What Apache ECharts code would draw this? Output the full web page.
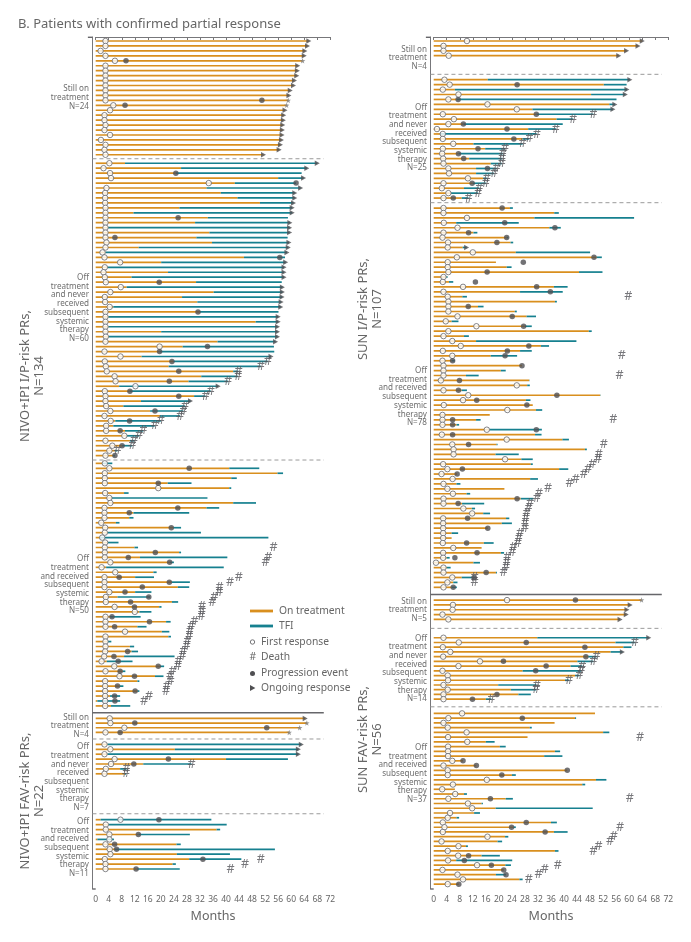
<!DOCTYPE html>
<html>
<head>
<meta charset="utf-8">
<title>Patients with confirmed partial response</title>
<style>
  html, body { margin: 0; padding: 0; background: #fff; }
  #chart { width: 691px; height: 942px; }
</style>
<script src="https://cdn.jsdelivr.net/npm/echarts@6/dist/echarts.min.js"></script>
</head>
<body>
<div id="chart"></div>
<script>
const _ = null
const A = 1 // ongoing response arrow
const S = 2 // star at the end of the row

// each row: first response, end of treatment, end of TFI, progression, death, end marker (months)
const nivoStillIP = [
  [3.0,65.4,65.4,_,_,A],[3.0,65.0,65.0,_,_,A],[1.5,64.2,64.2,_,_,A],[3.0,64.0,64.0,_,_,A],
  [5.9,63.5,63.5,9.3,_,S],[3.0,62.0,62.0,_,_,A],[3.0,61.9,61.9,_,_,A],[3.0,61.7,61.7,_,_,A],
  [3.0,61.0,61.0,_,_,A],[3.0,60.7,60.7,_,_,A],[3.0,59.7,59.7,_,_,A],[3.0,59.3,59.3,_,_,A],
  [3.0,59.1,59.1,51.0,_,S],[5.4,58.6,58.6,9.0,_,S],[4.4,58.1,58.1,_,_,A],[2.7,57.7,57.7,_,_,A],
  [2.7,57.6,57.6,_,_,A],[3.0,57.4,57.4,_,_,A],[2.7,57.3,57.3,_,_,A],[4.4,57.2,57.2,_,_,A],
  [1.6,57.0,57.0,_,_,A],[3.0,56.7,56.7,_,_,A],[2.7,56.3,56.3,_,_,A],[3.0,51.5,51.5,_,_,A]
]
const nivoNeverIP = [
  [4.2,9.0,68.0,_,_,A],[2.4,26.2,64.8,_,_,A],[4.4,24.6,63.2,24.6,_,0],[4.7,56.0,63.8,_,_,A],
  [34.7,42.7,61.5,61.5,_,0],[3.3,34.0,62.9,_,_,A],[2.9,38.4,61.1,_,_,A],[2.9,43.5,61.1,_,_,A],
  [2.9,50.4,60.7,_,_,A],[3.0,25.7,60.3,_,_,A],[3.0,11.6,60.3,_,_,A],[3.0,34.4,59.0,25.3,_,0],
  [3.0,30.5,59.6,_,_,A],[3.0,3.8,59.5,_,_,A],[3.0,34.9,59.5,_,_,A],[3.0,30.9,58.9,5.9,_,0],
  [3.3,35.7,59.3,_,_,A],[3.0,13.2,59.1,_,_,A],[2.1,3.0,58.7,_,_,A],[2.7,45.5,58.1,56.5,_,0],
  [7.5,20.1,58.3,_,_,A],[2.8,3.6,57.8,_,_,A],[2.4,22.2,57.8,_,_,A],[2.8,11.0,57.8,_,_,A],
  [3.1,30.8,57.1,19.5,_,0],[7.7,9.5,57.3,_,_,A],[4.5,36.2,57.3,_,_,A],[2.8,26.5,57.2,_,_,A],
  [2.9,31.2,56.9,_,_,A],[4.3,5.4,56.8,_,_,A],[3.0,32.0,56.1,31.4,_,0],[3.0,3.9,56.0,_,_,A],
  [3.0,49.1,56.0,_,_,A],[3.0,3.9,55.8,_,_,A],[3.0,20.1,55.8,_,_,A],[3.1,4.0,55.8,_,_,A],
  [3.0,37.4,55.2,_,_,A],[19.6,26.7,54.7,34.3,_,0],[2.7,19.6,54.8,19.6,_,0],[7.6,14.1,53.8,_,_,A],
  [2.8,23.8,52.8,23.4,52.8,0],[3.1,22.4,50.7,_,50.7,0],[3.4,42.2,43.8,25.5,43.8,0],[5.8,32.4,43.6,_,43.7,0],
  [6.1,28.5,40.6,22.6,40.6,0],[12.2,7.2,37.6,_,_,A],[2.8,10.5,35.3,10.5,35.3,0],[3.0,30.2,33.7,25.5,33.7,0],
  [3.0,13.9,29.1,_,_,A],[3.2,8.5,27.4,_,27.4,0],[4.5,16.7,26.9,18.2,26.9,0],[2.7,19.7,25.9,_,25.9,0],
  [4.6,6.0,20.0,10.4,20.0,0],[3.2,5.4,18.1,_,18.1,0],[3.2,9.0,14.6,7.5,14.6,0],[8.8,9.5,13.3,_,13.3,0],
  [3.0,10.5,11.8,_,11.8,0],[5.1,8.1,11.2,8.1,11.2,0],[4.2,5.9,6.7,_,6.7,0],[3.0,5.4,5.9,5.9,_,0]
]
const nivoReceivedIP = [
  [2.8,2.0,5.1,_,_,0],[4.2,41.0,50.2,28.7,_,0],[2.8,55.8,57.5,_,_,0],[2.8,41.6,43.3,_,_,0],
  [2.8,22.1,29.4,19.2,_,0],[19.2,41.0,41.6,_,_,0],[2.9,8.7,10.1,_,_,0],[4.2,4.9,34.3,_,_,0],
  [4.5,42.2,49.2,_,_,0],[2.7,34.0,37.9,25.2,_,0],[2.7,11.6,28.7,10.3,_,0],[2.7,10.3,11.6,_,_,0],
  [1.7,6.2,7.3,_,_,0],[2.9,23.8,26.2,23.2,_,0],[2.8,3.6,32.3,_,_,0],[2.0,1.3,53.0,_,_,0],
  [2.9,3.7,7.0,_,_,0],[2.8,11.9,13.0,_,54.6,0],[2.8,25.6,26.2,18.3,_,0],[2.8,13.6,40.4,10.0,53.0,0],
  [4.5,22.8,24.0,22.7,52.1,0],[1.8,3.2,39.3,_,_,0],[6.0,17.7,18.7,_,_,0],[2.7,12.1,17.9,7.2,43.9,0],
  [2.7,23.3,28.9,22.6,41.2,0],[2.7,25.2,28.7,14.3,38.0,0],[4.2,12.1,17.1,9.0,37.9,0],[3.1,6.7,16.7,16.3,36.4,0],
  [3.1,23.4,25.3,10.7,35.8,0],[5.8,19.5,20.2,11.9,32.6,0],[12.0,13.4,17.1,_,32.6,0],[3.0,4.4,13.8,5.0,32.4,0],
  [3.0,21.6,23.0,16.5,30.3,0],[3.0,12.8,15.6,5.8,29.3,0],[9.0,20.3,22.6,_,28.9,0],[3.0,22.3,23.1,_,28.7,0],
  [3.0,3.6,4.8,_,28.1,0],[3.0,10.5,11.8,_,27.9,0],[2.9,11.0,13.0,9.8,26.9,0],[2.6,8.7,24.2,5.6,26.6,0],
  [1.8,3.4,11.3,6.9,25.4,0],[5.7,19.7,21.0,19.2,25.2,0],[3.0,8.3,9.1,7.5,23.6,0],[7.3,18.2,20.8,11.9,22.8,0],
  [2.9,12.8,13.4,_,23.0,0],[2.9,7.3,8.5,6.7,21.8,0],[2.9,12.8,13.4,12.1,21.6,0],[2.9,4.4,7.5,5.8,16.4,0],
  [2.9,0.5,7.5,5.9,14.8,0],[2.9,4.7,10.6,_,_,0]
]
const nivoStillFav = [
  [4.3,64.3,64.3,_,_,A],[4.5,64.8,64.8,12.0,_,S],[8.8,62.6,62.6,52.5,_,S],[3.0,59.4,59.4,7.5,_,S]
]
const nivoNeverFav = [
  [2.7,3.6,63.1,_,_,A],[4.5,24.3,62.2,_,_,A],[2.7,3.6,62.2,_,_,A],[5.8,40.0,59.0,22.3,_,0],
  [4.7,14.6,29.4,11.7,29.4,0],[3.1,7.5,9.5,_,9.5,0],[2.7,9.0,9.3,_,9.3,0]
]
const nivoReceivedFav = [
  [7.6,1.5,35.5,19.4,_,0],[3.1,3.9,40.2,_,_,0],[3.1,37.1,38.2,_,_,0],[4.2,13.1,28.9,13.1,_,0],
  [4.2,0.5,5.6,_,_,0],[3.0,24.8,26.1,5.8,_,0],[4.3,5.9,55.0,6.4,_,0],[4.5,24.9,41.2,_,_,0],
  [2.8,28.7,44.7,32.9,50.7,0],[3.0,23.6,24.6,_,45.8,0],[3.0,12.6,25.8,12.4,41.4,0]
]
const sunStillIP = [
  [10.2,64.0,64.0,_,_,A],[3.0,62.7,62.7,_,_,A],[3.0,59.2,59.2,_,_,A],[4.6,56.8,56.8,_,_,A]
]
const sunNeverIP = [
  [3.3,16.6,60.2,_,_,A],[4.9,52.2,59.2,25.6,_,0],[2.8,6.5,59.3,_,_,A],[7.6,48.3,58.8,_,_,A],
  [4.5,7.0,56.1,7.5,_,0],[16.5,53.9,55.6,_,_,A],[25.5,30.3,55.0,_,_,A],[2.8,31.5,49.0,31.5,49.0,0],
  [6.2,37.7,42.8,_,42.8,0],[4.5,9.1,39.6,9.1,_,0],[1.0,29.0,37.5,22.5,37.5,0],[2.8,1.9,31.6,_,31.6,0],
  [2.8,27.3,29.3,24.6,29.3,0],[6.0,12.2,27.3,_,27.3,0],[2.8,15.8,21.9,13.6,21.9,0],[2.6,7.6,21.2,7.6,21.2,0],
  [2.9,10.9,21.0,9.2,21.0,0],[3.0,17.5,20.9,_,20.9,0],[4.5,13.0,19.3,16.5,19.3,0],[4.7,13.0,18.5,_,18.5,0],
  [10.5,15.2,16.3,_,16.3,0],[3.0,12.0,16.0,11.8,16.0,0],[2.5,9.3,14.0,_,14.0,0],[4.5,5.3,13.6,_,13.6,0],
  [3.0,8.6,10.7,6.0,10.7,0]
]
const sunReceivedIP = [
  [3.0,23.4,24.3,21.0,_,0],[3.0,37.0,38.4,_,_,0],[10.2,30.9,61.5,_,_,0],[3.1,6.9,26.1,21.8,_,0],
  [7.3,35.5,39.0,37.2,_,0],[3.0,12.2,13.4,10.7,_,0],[2.7,22.4,22.9,22.4,_,0],[4.4,23.6,24.4,19.4,_,0],
  [4.3,8.9,10.1,_,_,A],[12.0,25.2,48.0,_,_,0],[7.1,50.0,51.6,49.2,_,0],[4.3,19.1,19.1,27.5,_,0],
  [4.3,22.4,23.9,_,_,0],[4.5,44.6,51.8,16.4,_,0],[3.0,3.8,4.3,_,_,0],[2.8,4.7,6.0,12.8,_,0],
  [9.0,36.9,41.1,31.6,_,0],[3.0,26.5,39.6,35.8,_,0],[4.3,8.8,10.2,_,59.7,0],[4.5,37.2,37.8,_,_,0],
  [4.5,13.6,15.3,10.6,_,0],[4.5,24.9,25.5,_,_,0],[7.3,28.5,31.4,24.1,_,0],[3.7,5.5,7.6,_,_,0],
  [13.1,28.0,30.1,27.6,_,0],[4.5,47.6,48.5,_,_,0],[3.0,9.3,10.8,_,_,0],[5.7,13.0,43.8,_,_,0],
  [8.3,32.9,35.4,29.2,_,0],[2.8,26.5,30.1,22.6,_,0],[5.7,17.5,25.6,21.9,57.7,0],[2.7,5.5,6.5,5.8,_,0],
  [3.0,27.1,27.1,27.1,_,0],[3.0,20.6,22.1,_,_,0],[3.0,9.9,13.8,_,57.0,0],[2.2,29.3,29.4,7.9,_,0],
  [25.5,28.7,29.5,_,_,0],[3.0,8.6,10.2,7.6,_,0],[10.6,51.1,51.2,37.8,_,0],[9.0,28.3,29.7,13.2,_,0],
  [3.1,30.4,30.4,28.6,_,0],[22.6,31.4,33.3,_,_,0],[2.7,17.2,17.2,_,_,0],[2.7,13.0,14.4,5.8,55.1,0],
  [2.7,7.0,7.8,5.8,_,0],[16.3,17.1,33.2,31.5,_,0],[2.5,31.1,33.1,5.8,_,0],[22.4,39.5,41.5,_,_,0],
  [5.7,19.3,19.6,10.7,52.2,0],[6.1,46.4,47.0,_,_,0],[6.1,19.0,26.1,_,50.7,0],[21.9,26.9,30.4,_,50.4,0],
  [2.9,29.8,30.4,_,48.7,0],[4.2,38.5,41.3,8.8,47.4,0],[2.4,7.2,7.2,7.2,46.1,0],[5.8,29.6,32.0,_,43.6,0],
  [3.0,7.0,8.2,_,41.7,0],[4.2,21.7,21.7,_,35.1,0],[5.9,10.1,11.2,_,32.3,0],[3.0,26.7,30.6,25.6,31.6,0],
  [3.0,8.7,15.5,7.5,29.6,0],[9.1,11.7,12.7,_,29.1,0],[11.8,15.2,17.3,_,28.5,0],[2.9,22.2,23.2,10.4,28.3,0],
  [2.9,20.9,24.0,_,28.0,0],[2.9,16.6,16.6,16.6,28.0,0],[2.9,5.5,7.5,_,26.5,0],[2.9,5.5,5.5,_,26.1,0],
  [2.8,15.4,18.4,10.1,25.8,0],[6.0,14.7,14.7,_,24.4,0],[2.9,20.6,21.6,13.3,24.1,0],[2.9,4.0,4.9,6.5,22.6,0],
  [0.7,12.2,14.2,_,22.4,0],[3.0,4.0,5.2,_,22.2,0],[3.0,19.1,19.4,16.1,21.4,0],[5.7,8.6,12.7,12.4,12.5,0],
  [4.2,6.0,7.3,_,12.5,0],[3.0,5.5,7.1,6.0,_,0]
]
const sunStillFav = [
  [22.5,63.8,63.8,43.5,_,S],[5.9,60.3,60.3,_,_,A],[5.8,59.3,59.3,_,_,A],[2.7,59.1,59.1,_,_,A],[4.5,57.2,57.2,_,_,A]
]
const sunNeverFav = [
  [3.0,31.8,66.0,_,_,A],[7.7,55.8,61.7,28.4,61.7,0],[2.8,58.2,60.7,46.4,_,0],[5.1,54.3,57.9,_,_,A],
  [2.9,47.4,50.0,46.7,50.0,0],[14.2,44.1,49.0,21.4,49.0,0],[7.6,42.0,45.6,34.5,45.6,0],[2.7,27.3,45.3,31.3,45.3,0],
  [4.3,43.4,44.7,_,44.7,0],[4.4,40.3,41.5,_,41.5,0],[3.0,19.8,31.6,_,31.6,0],[4.3,23.7,31.4,_,31.4,0],
  [3.0,26.0,29.8,19.4,_,0],[3.0,16.0,17.7,11.9,17.7,0]
]
const sunReceivedFav = [
  [8.7,49.5,49.5,_,_,0],[4.5,43.4,43.7,27.2,_,0],[3.0,37.1,37.1,_,_,0],[4.3,29.5,30.1,_,_,0],
  [10.1,52.0,53.9,_,_,0],[4.4,28.8,28.8,_,63.3,0],[10.3,16.0,18.7,_,_,0],[4.4,20.3,22.1,_,_,0],
  [4.4,37.2,38.8,_,_,0],[4.4,33.9,39.5,_,_,0],[5.7,9.0,9.0,9.0,_,0],[3.0,13.1,13.1,13.1,_,0],
  [4.3,41.0,41.0,41.0,_,0],[4.3,24.0,25.2,20.9,_,0],[16.3,49.8,53.0,_,_,0],[5.9,45.6,46.5,_,_,0],
  [2.6,6.5,6.5,_,_,0],[6.6,9.3,10.2,_,_,0],[4.5,22.1,24.3,17.4,60.2,0],[10.5,14.7,15.1,_,_,0],
  [11.8,19.0,48.8,_,_,0],[5.0,12.4,14.2,_,_,0],[4.3,7.0,7.8,_,_,0],[2.8,36.0,37.8,28.4,_,0],
  [3.3,24.4,25.2,23.9,57.2,0],[2.8,36.9,41.1,34.2,_,0],[16.5,21.9,22.9,_,55.3,0],[2.4,19.6,21.0,_,54.1,0],
  [7.6,9.9,10.5,_,50.6,0],[4.3,37.2,38.3,_,49.0,0],[7.5,14.7,20.3,10.7,_,0],[4.4,6.9,24.1,9.4,_,0],
  [13.3,22.0,23.7,17.7,38.1,0],[2.7,21.5,21.5,21.5,34.1,0],[7.3,19.1,22.2,22.2,32.2,0],[9.0,26.3,27.3,_,29.2,0],
  [4.3,7.7,7.7,7.7,_,0]
]

const monthTicks = 4
const groupLabels = ['Still on\ntreatment\nN=', 'Off\ntreatment\nand never\nreceived\nsubsequent\nsystemic\ntherapy\nN=', 'Off\ntreatment\nand received\nsubsequent\nsystemic\ntherapy\nN=']

const ORANGE = '#D98F1E'
const TEAL = '#16808F'
const MARK = '#4f4f52'
const TEXT = '#666666'
const FONT = 'Noto Sans'
const ROWS = 172.1

// row positions of each group: first row and spacing, in row units of the y axis
const panels = [
  {
    groups: [
      { rows: nivoStillIP, first: 0.81, step: 0.999 },
      { rows: nivoNeverIP, first: 25.5, step: 1.001 },
      { rows: nivoReceivedIP, first: 86.12, step: 1 },
      { rows: nivoStillFav, first: 137.64, step: 0.943 },
      { rows: nivoNeverFav, first: 142.89, step: 0.99 },
      { rows: nivoReceivedFav, first: 158.1, step: 0.996 },
    ],
    dashed: [24.59, 85.45, 141.8, 156.9],
    solid: [136.5],
  },
  {
    groups: [
      { rows: sunStillIP, first: 0.81, step: 0.99 },
      { rows: sunNeverIP, first: 8.63, step: 0.996 },
      { rows: sunReceivedIP, first: 34.55, step: 0.995 },
      { rows: sunStillFav, first: 113.74, step: 0.976 },
      { rows: sunNeverFav, first: 121.35, step: 0.954 },
      { rows: sunReceivedFav, first: 136.63, step: 0.958 },
    ],
    dashed: [7.54, 33.47, 119.45, 135.3],
    solid: [112.6],
  },
]

function segmentItem(params, api) {
  const a = api.coord([api.value(0), api.value(2)])
  const b = api.coord([api.value(1), api.value(2)])
  return {
    type: 'line',
    shape: { x1: a[0], y1: a[1], x2: b[0], y2: b[1] },
    style: { stroke: api.visual('color'), lineWidth: 1.7 },
  }
}

function ruleItem(params, api) {
  const a = api.coord([api.value(0), api.value(2)])
  const b = api.coord([api.value(1), api.value(2)])
  const solid = api.value(3) === 1
  return {
    type: 'line',
    shape: { x1: a[0], y1: a[1], x2: b[0], y2: b[1] },
    style: {
      stroke: solid ? '#66666a' : '#9a9a9a',
      lineWidth: solid ? 1.4 : 1,
      lineDash: solid ? null : [4, 3],
    },
  }
}

const series = []
panels.forEach((panel, p) => {
  const onTreatment = [], tfi = [], first = [], prog = [], death = [], arrows = [], stars = []
  panel.groups.forEach(g => {
    g.rows.forEach((r, i) => {
      const y = g.first + i * g.step
      onTreatment.push([0, r[1], y])
      if (r[2] > r[1]) tfi.push([r[1], r[2], y])
      first.push([r[0], y])
      if (r[3] !== null) prog.push([r[3], y])
      if (r[4] !== null) death.push([r[4], y])
      if (r[5] === A) arrows.push([r[2], y])
      if (r[5] === S) stars.push([r[2], y])
    })
  })
  const rules = [[-2.4, -1, 0.06, 1], [-1, 0, ROWS, 1]]
  panel.dashed.forEach(y => rules.push([-1, 70, y, 0]))
  panel.solid.forEach(y => rules.push([-1, 70, y, 1]))

  const axes = { xAxisIndex: p, yAxisIndex: p }
  const seg = (name, color, data, z) => ({
    type: 'custom', name, ...axes, data, z, clip: false, silent: true,
    itemStyle: { color }, encode: { x: [0, 1], y: 2 },
    renderItem: segmentItem,
  })
  series.push(seg('On treatment', ORANGE, onTreatment, 2))
  series.push(seg('TFI', TEAL, tfi, 2))
  series.push({
    type: 'custom', name: 'rule', ...axes, data: rules, z: 1, clip: false, silent: true,
    encode: { x: [0, 1], y: 2 }, renderItem: ruleItem,
  })
  series.push({
    type: 'scatter', name: 'Ongoing response', ...axes, data: arrows, z: 3, silent: true,
    symbol: 'triangle', symbolRotate: -90, symbolSize: [5.5, 5], itemStyle: { color: MARK },
  })
  series.push({
    type: 'scatter', name: 'Star', ...axes, data: stars, z: 3, silent: true,
    symbol: 'path://M5 0L6.2 3.5L10 3.6L7 5.9L8.1 9.5L5 7.4L1.9 9.5L3 5.9L0 3.6L3.8 3.5Z',
    symbolSize: 5.5, itemStyle: { color: '#7c7c7c' },
  })
  series.push({
    type: 'scatter', name: 'Death', ...axes, data: death, z: 6, silent: true,
    symbolSize: 1, itemStyle: { color: 'rgba(0,0,0,0)' },
    label: { show: true, formatter: '#', position: 'inside', fontFamily: FONT, fontSize: 12.5, color: '#55555a' },
    labelLayout: { hideOverlap: false },
  })
  series.push({
    type: 'scatter', name: 'First response', ...axes, data: first, z: 4, silent: true,
    symbol: 'circle', symbolSize: 5.5, itemStyle: { color: '#fff', borderColor: '#66666a', borderWidth: 1 },
  })
  series.push({
    type: 'scatter', name: 'Progression event', ...axes, data: prog, z: 5, silent: true,
    symbol: 'circle', symbolSize: 5.5, itemStyle: { color: MARK },
  })
})

function sideText(text, x, y) {
  return {
    type: 'text', x, y,
    style: { text, fontFamily: FONT, fontSize: 8.1, lineHeight: 8.7, fill: '#6e6e6e', align: 'right', verticalAlign: 'middle' },
  }
}
function panelText(text, x, y) {
  return {
    type: 'text', x, y, rotation: Math.PI / 2,
    style: { text, fontFamily: FONT, fontSize: 13, lineHeight: 14, fill: TEXT, align: 'center', verticalAlign: 'middle' },
  }
}
function legendText(text, x, y, size) {
  return {
    type: 'text', x, y,
    style: { text, fontFamily: FONT, fontSize: size || 10.3, fill: TEXT, align: 'left', verticalAlign: 'middle' },
  }
}

const graphic = [
  sideText(groupLabels[0] + nivoStillIP.length, 89, 97.7),
  sideText(groupLabels[1] + nivoNeverIP.length, 89, 308.2),
  sideText(groupLabels[2] + nivoReceivedIP.length, 89, 585),
  sideText(groupLabels[0] + nivoStillFav.length, 89, 726),
  sideText(groupLabels[1] + nivoNeverFav.length, 89, 777.3),
  sideText(groupLabels[2] + nivoReceivedFav.length, 89, 847.7),
  sideText(groupLabels[0] + sunStillIP.length, 427, 58),
  sideText(groupLabels[1] + sunNeverIP.length, 427, 137.7),
  sideText(groupLabels[2] + sunReceivedIP.length, 427, 396.8),
  sideText(groupLabels[0] + sunStillFav.length, 427, 610),
  sideText(groupLabels[1] + sunNeverFav.length, 427, 668.7),
  sideText(groupLabels[2] + sunReceivedFav.length, 427, 773.7),
  panelText('NIVO+IPI I/P-risk PRs,\nN=134', 32, 376),
  panelText('NIVO+IPI FAV-risk PRs,\nN=22', 32, 801),
  panelText('SUN I/P-risk PRs,\nN=107', 370, 309),
  panelText('SUN FAV-risk PRs,\nN=56', 370, 739.5),
  { type: 'line', shape: { x1: 250, y1: 611, x2: 273, y2: 611 }, style: { stroke: ORANGE, lineWidth: 2.8 } },
  legendText('On treatment', 279, 611),
  { type: 'line', shape: { x1: 250, y1: 626, x2: 273, y2: 626 }, style: { stroke: TEAL, lineWidth: 2.8 } },
  legendText('TFI', 279, 626),
  { type: 'circle', shape: { cx: 252.5, cy: 642, r: 2.2 }, style: { fill: '#fff', stroke: '#66666a', lineWidth: 0.9 } },
  legendText('First response', 261, 642),
  legendText('#', 249.5, 657),
  legendText('Death', 261, 657),
  { type: 'circle', shape: { cx: 252.5, cy: 673.5, r: 2.5 }, style: { fill: MARK } },
  legendText('Progression event', 261, 673.5),
  { type: 'polygon', shape: { points: [[250, 685], [255.4, 688], [250, 691]] }, style: { fill: MARK } },
  legendText('Ongoing response', 261, 688),
]

const xAxisBase = {
  type: 'value', min: 0, max: 72, interval: monthTicks,
  name: 'Months', nameLocation: 'middle', nameGap: 21,
  nameTextStyle: { fontFamily: FONT, fontSize: 12.5, color: TEXT },
  axisLine: { lineStyle: { color: '#77777a', width: 1 } },
  axisTick: { length: 3, lineStyle: { color: '#77777a' } },
  axisLabel: { fontFamily: FONT, fontSize: 8.5, color: TEXT, margin: 6, hideOverlap: false, showMinLabel: true, showMaxLabel: true },
  splitLine: { show: false },
}
const yAxisBase = {
  type: 'value', min: 0, max: ROWS, inverse: true, offset: 3,
  axisLine: { show: true, onZero: false, lineStyle: { color: '#77777a', width: 1 } },
  axisTick: { show: false }, axisLabel: { show: false }, splitLine: { show: false },
}

const chart = echarts.init(document.getElementById('chart'), null, { renderer: 'canvas' })
chart.setOption({
  animation: false,
  backgroundColor: '#fff',
  title: {
    text: 'B. Patients with confirmed partial response',
    left: 18, top: 18, padding: 0,
    textStyle: { fontFamily: FONT, fontSize: 13, fontWeight: 'normal', color: TEXT },
  },
  grid: [
    { left: 95.7, top: 37, width: 234.6, height: 852 },
    { left: 433.7, top: 37, width: 234.6, height: 852 },
  ],
  xAxis: [{ ...xAxisBase, gridIndex: 0 }, { ...xAxisBase, gridIndex: 1 }],
  yAxis: [{ ...yAxisBase, gridIndex: 0 }, { ...yAxisBase, gridIndex: 1 }],
  series,
  graphic,
})
</script>
</body>
</html>
